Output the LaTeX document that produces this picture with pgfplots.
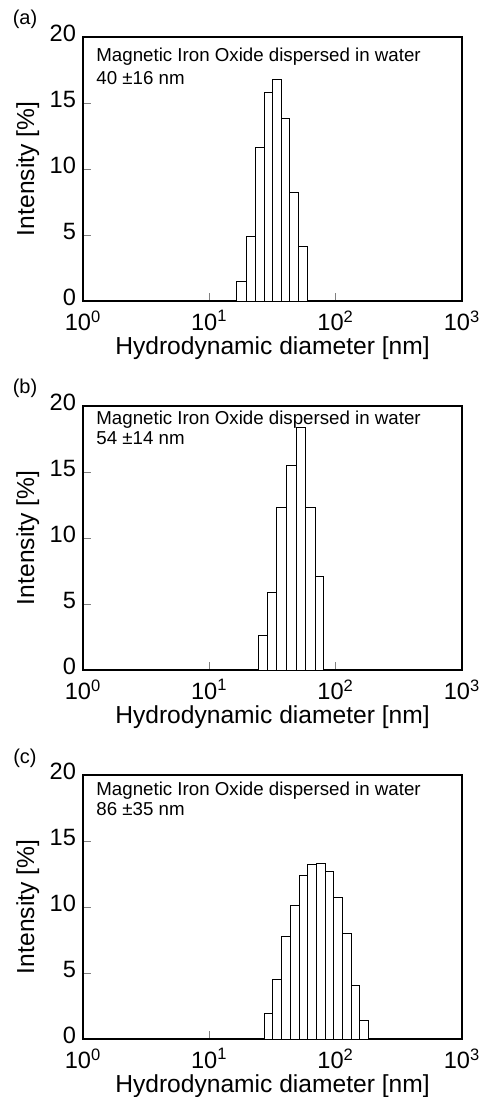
\documentclass[border=0pt]{standalone}
\usepackage{fontspec}
\setmainfont{Liberation Sans}
\usepackage{pgfplots}
\pgfplotsset{compat=1.18}

\pgfplotsset{
  every axis/.append style={
    scale only axis, width=189.5pt, height=132pt,
    xmin=1, xmax=1000, ymin=0, ymax=20,
    xtick={1,10,100,1000},
    xticklabels={10\textsuperscript{0},10\textsuperscript{1},10\textsuperscript{2},10\textsuperscript{3}},
    ytick={0,5,10,15,20},
    xminorticks=false, yminorticks=false,
    tick align=inside, tick pos=left, major tick length=4pt,
    axis line style={line width=0.6pt},
    /pgf/number format/assume math mode=true,
    tick label style={font=\fontsize{11.8}{13}\selectfont},
    xticklabel style={yshift=-1.2pt},
    yticklabel style={yshift=2pt},
    label style={font=\fontsize{12.3}{14}\selectfont},
    xlabel style={at={(axis description cs:0.5,-0.178)}, anchor=center},
    ylabel style={at={(axis description cs:-0.146,0.5)}, anchor=center},
    anchor=south west,
  },
}

\begin{document}
\begin{tikzpicture}
% (a)
\begin{semilogxaxis}[at={(41.5pt,-150.5pt)},
  xlabel={Hydrodynamic diameter [nm]}, ylabel={Intensity [\%]}]
\addplot[ybar interval, draw=black, fill=white, line width=0.5pt] coordinates {
  (16.47,1.5) (19.76,4.9) (22.99,11.6) (27.19,15.8) (31.62,16.8)
  (37.27,13.8) (42.95,8.2) (50.80,4.1) (59.64,0)
};
\node[anchor=north west, align=left, inner sep=0pt,
  font=\fontsize{9.35}{11.5}\selectfont, xshift=6.5pt, yshift=-5.5pt]
  at (rel axis cs:0,1) {Magnetic Iron Oxide dispersed in water\\40 ±16 nm};
\end{semilogxaxis}
\node[font=\fontsize{10}{12}\selectfont] at (12.5pt,-9.5pt) {(a)};

% (b)
\begin{semilogxaxis}[at={(41.5pt,-335pt)},
  xlabel={Hydrodynamic diameter [nm]}, ylabel={Intensity [\%]}]
\addplot[ybar interval, draw=black, fill=white, line width=0.5pt] coordinates {
  (24.42,2.65) (28.97,5.9) (34.15,12.3) (40.45,15.5) (48.54,18.4)
  (57.20,12.3) (68.63,7.05) (80.85,0)
};
\node[anchor=north west, align=left, inner sep=0pt,
  font=\fontsize{9.35}{10}\selectfont, xshift=6.5pt, yshift=-2.5pt]
  at (rel axis cs:0,1) {Magnetic Iron Oxide dispersed in water\\54 ±14 nm};
\end{semilogxaxis}
\node[font=\fontsize{10}{12}\selectfont] at (12.5pt,-194pt) {(b)};

% (c)
\begin{semilogxaxis}[at={(41.5pt,-519.5pt)},
  xlabel={Hydrodynamic diameter [nm]}, ylabel={Intensity [\%]}]
\addplot[ybar interval, draw=black, fill=white, line width=0.5pt] coordinates {
  (27.24,1.95) (31.74,4.5) (37.41,7.8) (44.07,10.15) (51.55,12.35)
  (59.85,13.25) (70.79,13.3) (82.35,12.7) (96.49,10.75) (112.3,8.0)
  (132.7,4.05) (155.0,1.4) (181.3,0)
};
\node[anchor=north west, align=left, inner sep=0pt,
  font=\fontsize{9.35}{10}\selectfont, xshift=6.5pt, yshift=-3.2pt]
  at (rel axis cs:0,1) {Magnetic Iron Oxide dispersed in water\\86 ±35 nm};
\end{semilogxaxis}
\node[font=\fontsize{10}{12}\selectfont] at (12.5pt,-379pt) {(c)};

\pgfresetboundingbox
\path[use as bounding box] (0,0) rectangle (242.5pt,-548.5pt);
\end{tikzpicture}
\end{document}
